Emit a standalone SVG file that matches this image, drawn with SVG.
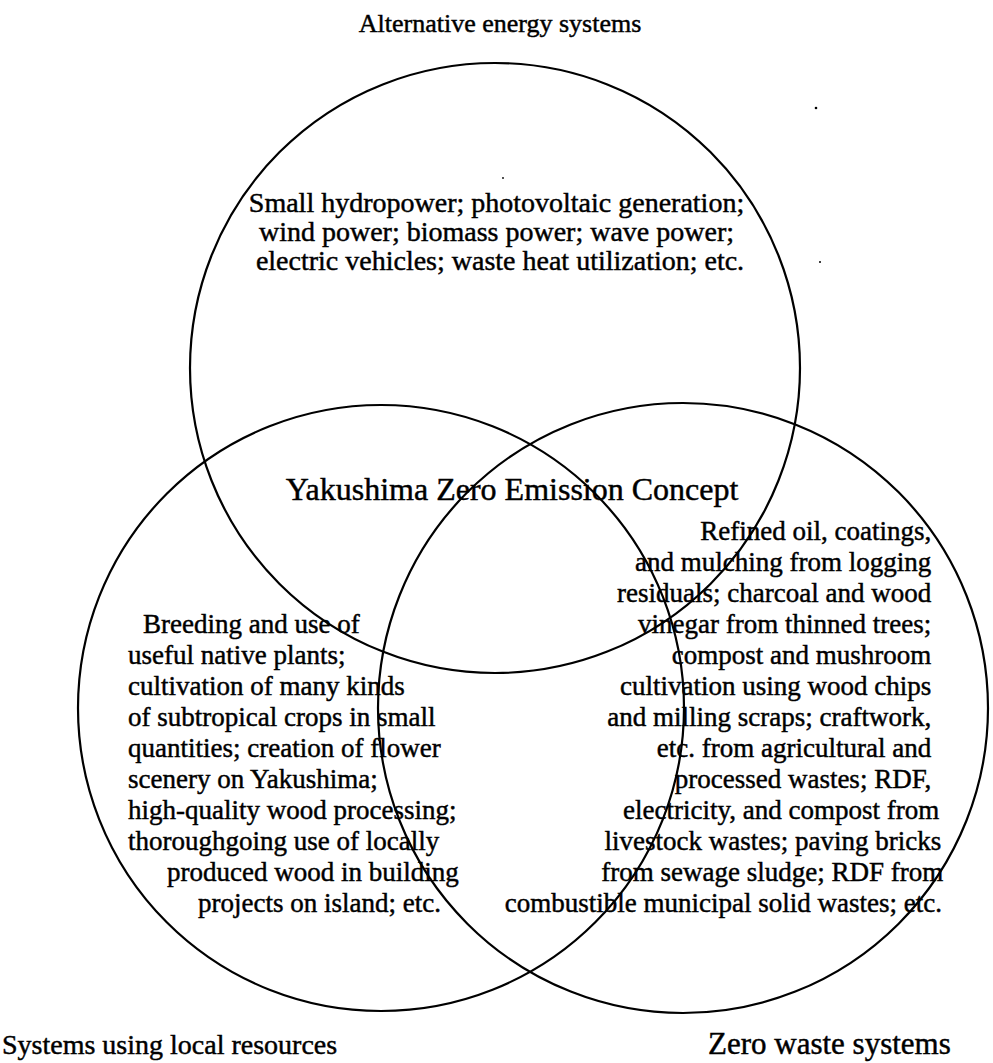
<svg xmlns="http://www.w3.org/2000/svg" width="993" height="1063" viewBox="0 0 993 1063">
  <style>
    .ring { fill: none; stroke: #000; stroke-width: 2.2; }
    .t { font-family: "Liberation Serif", "Times New Roman", serif; fill: #000; stroke: #000; stroke-width: 0.45; }
    .body { font-size: 27px; }
    .mid { text-anchor: middle; }
    .end { text-anchor: end; }
  </style>
  <rect width="993" height="1063" fill="#fff"/>

  <!-- Alternative energy systems -->
  <g id="energy">
    <circle class="ring" cx="495" cy="368" r="305"/>
    <text class="t mid" x="500" y="32" font-size="26">Alternative energy systems</text>
    <text class="t mid" font-size="28">
      <tspan x="500" y="212">Small hydropower; photovoltaic generation;</tspan>
      <tspan x="500" y="241">wind power; biomass power; wave power;</tspan>
      <tspan x="500" y="270">electric vehicles; waste heat utilization; etc.</tspan>
    </text>
  </g>

  <!-- Systems using local resources -->
  <g id="local">
    <circle class="ring" cx="381" cy="708" r="303"/>
    <text class="t" x="2" y="1054" font-size="28">Systems using local resources</text>
    <text class="t body">
      <tspan x="143" y="633">Breeding and use of</tspan>
      <tspan x="128" y="664">useful native plants;</tspan>
      <tspan x="128" y="695">cultivation of many kinds</tspan>
      <tspan x="128" y="726">of subtropical crops in small</tspan>
      <tspan x="128" y="757">quantities; creation of flower</tspan>
      <tspan x="128" y="788">scenery on Yakushima;</tspan>
      <tspan x="128" y="819">high-quality wood processing;</tspan>
      <tspan x="128" y="850">thoroughgoing use of locally</tspan>
      <tspan x="167" y="881">produced wood in building</tspan>
      <tspan x="198" y="912">projects on island; etc.</tspan>
    </text>
  </g>

  <!-- Zero waste systems -->
  <g id="waste">
    <circle class="ring" cx="683" cy="708" r="305"/>
    <text class="t" x="708" y="1054" font-size="31">Zero waste systems</text>
    <text class="t body end">
      <tspan x="938" y="540">Refined oil, coatings,</tspan>
      <tspan x="938" y="571">and mulching from logging</tspan>
      <tspan x="938" y="602">residuals; charcoal and wood</tspan>
      <tspan x="938" y="633">vinegar from thinned trees;</tspan>
      <tspan x="938" y="664">compost and mushroom</tspan>
      <tspan x="938" y="695">cultivation using wood chips</tspan>
      <tspan x="938" y="726">and milling scraps; craftwork,</tspan>
      <tspan x="938" y="757">etc. from agricultural and</tspan>
      <tspan x="938" y="788">processed wastes; RDF,</tspan>
      <tspan x="946" y="819">electricity, and compost from</tspan>
      <tspan x="948" y="850">livestock wastes; paving bricks</tspan>
      <tspan x="950" y="881">from sewage sludge; RDF from</tspan>
      <tspan x="942" y="912">combustible municipal solid wastes; etc.</tspan>
    </text>
  </g>

  <!-- Overall concept at the shared centre -->
  <g id="concept">
    <text class="t mid" x="512" y="500" font-size="32">Yakushima Zero Emission Concept</text>
  </g>

  <!-- stray print marks -->
  <g id="marks" fill="#000">
    <circle cx="816" cy="108" r="1.3"/>
    <circle cx="820" cy="262" r="1"/>
    <circle cx="503" cy="178" r="0.9"/>
  </g>
</svg>
